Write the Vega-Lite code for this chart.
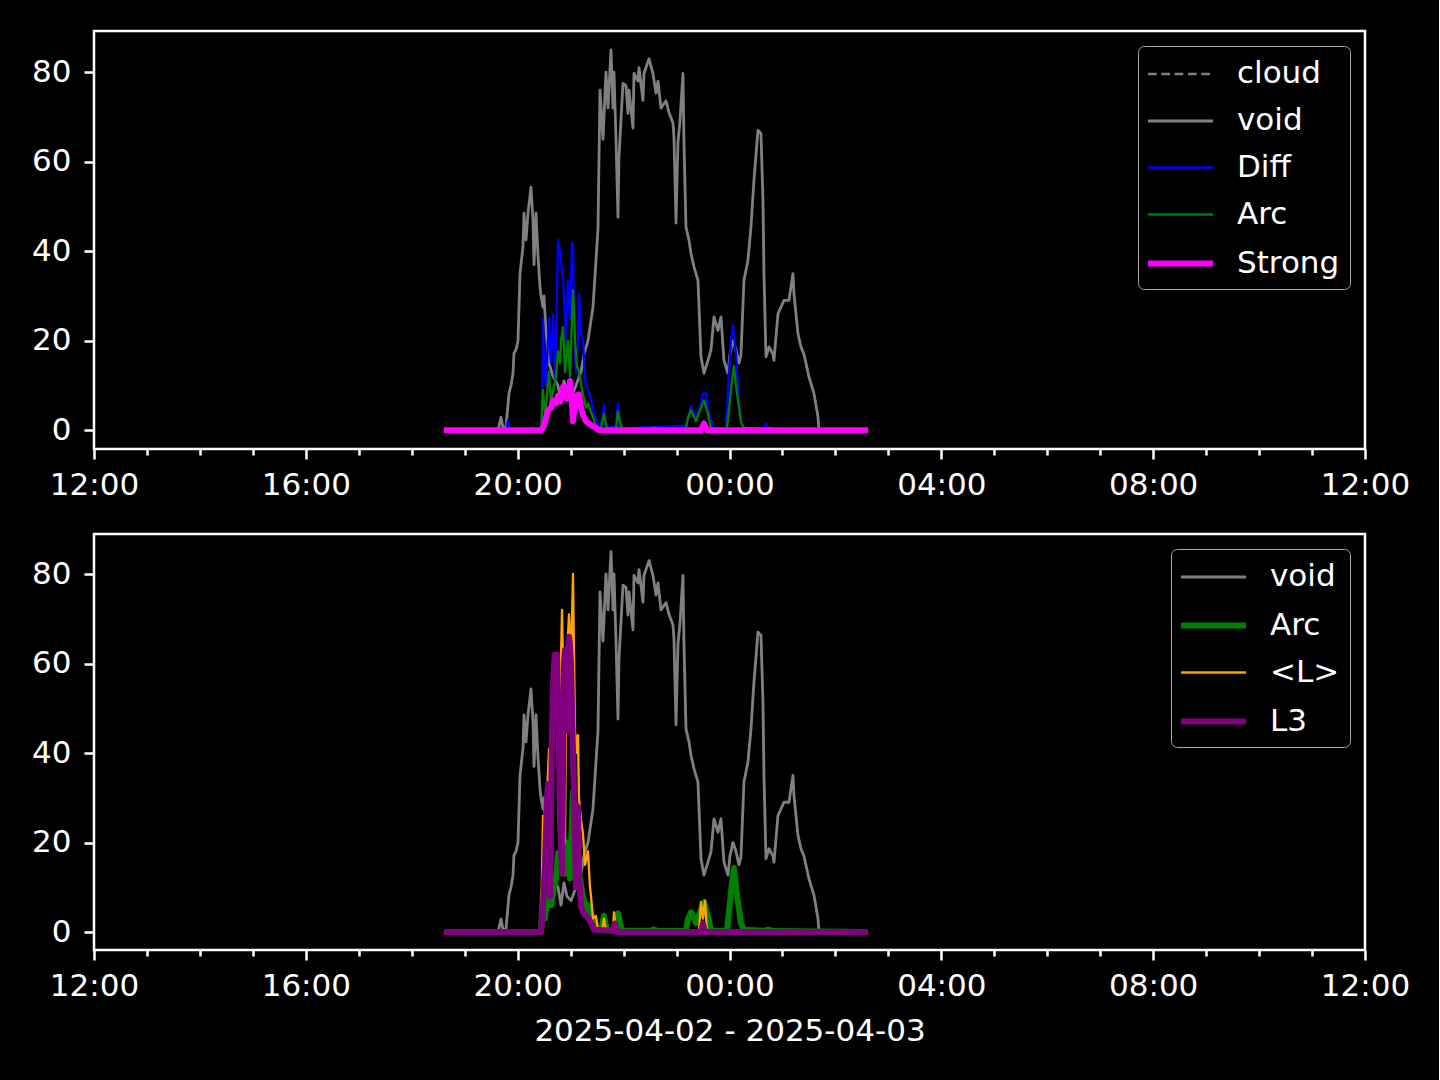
{
  "$schema": "https://vega.github.io/schema/vega-lite/v6.json",
  "background": "black",
  "padding": {"left": 30, "top": 29, "right": 28, "bottom": 32},
  "config": {
    "font": "DejaVu Sans",
    "view": {"stroke": "white", "strokeWidth": 2.5},
    "axis": {
      "domain": false, "grid": false,
      "tickColor": "white", "tickWidth": 2.5, "tickSize": 10,
      "labelColor": "white", "labelFont": "DejaVu Sans", "labelFontSize": 31,
      "labelPadding": 11, "labelFlush": false, "labelOverlap": false, "labelBound": false,
      "titleColor": "white", "titleFont": "DejaVu Sans", "titleFontSize": 31, "titleFontWeight": "normal", "titlePadding": 15
    },
    "axisY": {"labelPadding": 13},
    "legend": {
      "orient": "top-right", "offset": 15, "padding": 10,
      "fillColor": "black", "strokeColor": "#aaaaaa", "cornerRadius": 6,
      "labelColor": "white", "labelFont": "DejaVu Sans", "labelFontSize": 31,
      "symbolType": "M-2,0L2,0", "symbolSize": 1056, "symbolOffset": 13, "labelOffset": 37, "rowPadding": 14
    },
    "line": {"strokeJoin": "round"}
  },
  "datasets": {
    "d": [
      {"t":"2025-04-02T18:36:32","s":"void","v":0},
      {"t":"2025-04-02T19:37:43","s":"void","v":0},
      {"t":"2025-04-02T19:41:07","s":"void","v":2.9},
      {"t":"2025-04-02T19:43:23","s":"void","v":0.5},
      {"t":"2025-04-02T19:46:47","s":"void","v":0.7},
      {"t":"2025-04-02T19:50:11","s":"void","v":8.3},
      {"t":"2025-04-02T19:52:27","s":"void","v":10},
      {"t":"2025-04-02T19:54:43","s":"void","v":12.7},
      {"t":"2025-04-02T19:55:50","s":"void","v":17.2},
      {"t":"2025-04-02T19:58:07","s":"void","v":18},
      {"t":"2025-04-02T20:00:22","s":"void","v":20},
      {"t":"2025-04-02T20:02:38","s":"void","v":35},
      {"t":"2025-04-02T20:06:02","s":"void","v":41},
      {"t":"2025-04-02T20:07:10","s":"void","v":48.5},
      {"t":"2025-04-02T20:09:26","s":"void","v":42.5},
      {"t":"2025-04-02T20:11:42","s":"void","v":48.5},
      {"t":"2025-04-02T20:15:06","s":"void","v":54.3},
      {"t":"2025-04-02T20:17:22","s":"void","v":47},
      {"t":"2025-04-02T20:18:30","s":"void","v":37},
      {"t":"2025-04-02T20:20:46","s":"void","v":48.5},
      {"t":"2025-04-02T20:23:02","s":"void","v":39},
      {"t":"2025-04-02T20:25:18","s":"void","v":32},
      {"t":"2025-04-02T20:26:26","s":"void","v":30},
      {"t":"2025-04-02T20:28:42","s":"void","v":27.5},
      {"t":"2025-04-02T20:29:50","s":"void","v":30},
      {"t":"2025-04-02T20:32:06","s":"void","v":22},
      {"t":"2025-04-02T20:35:30","s":"void","v":15},
      {"t":"2025-04-02T20:40:02","s":"void","v":12},
      {"t":"2025-04-02T20:45:41","s":"void","v":10},
      {"t":"2025-04-02T20:49:05","s":"void","v":6},
      {"t":"2025-04-02T20:52:29","s":"void","v":11},
      {"t":"2025-04-02T20:55:53","s":"void","v":8},
      {"t":"2025-04-02T21:00:25","s":"void","v":7},
      {"t":"2025-04-02T21:06:05","s":"void","v":10},
      {"t":"2025-04-02T21:11:44","s":"void","v":13},
      {"t":"2025-04-02T21:15:08","s":"void","v":17},
      {"t":"2025-04-02T21:19:40","s":"void","v":20},
      {"t":"2025-04-02T21:25:20","s":"void","v":27.5},
      {"t":"2025-04-02T21:31:00","s":"void","v":45},
      {"t":"2025-04-02T21:33:16","s":"void","v":76},
      {"t":"2025-04-02T21:36:40","s":"void","v":65},
      {"t":"2025-04-02T21:40:04","s":"void","v":80},
      {"t":"2025-04-02T21:42:20","s":"void","v":72},
      {"t":"2025-04-02T21:45:44","s":"void","v":85},
      {"t":"2025-04-02T21:47:59","s":"void","v":72},
      {"t":"2025-04-02T21:49:08","s":"void","v":80},
      {"t":"2025-04-02T21:51:23","s":"void","v":65},
      {"t":"2025-04-02T21:53:40","s":"void","v":47.6},
      {"t":"2025-04-02T21:54:47","s":"void","v":61},
      {"t":"2025-04-02T21:59:19","s":"void","v":77.5},
      {"t":"2025-04-02T22:02:43","s":"void","v":77},
      {"t":"2025-04-02T22:04:59","s":"void","v":70.8},
      {"t":"2025-04-02T22:06:07","s":"void","v":76},
      {"t":"2025-04-02T22:10:39","s":"void","v":67.5},
      {"t":"2025-04-02T22:11:47","s":"void","v":79.7},
      {"t":"2025-04-02T22:16:19","s":"void","v":78},
      {"t":"2025-04-02T22:17:27","s":"void","v":81},
      {"t":"2025-04-02T22:21:59","s":"void","v":73.7},
      {"t":"2025-04-02T22:23:07","s":"void","v":79.7},
      {"t":"2025-04-02T22:28:47","s":"void","v":83},
      {"t":"2025-04-02T22:33:19","s":"void","v":79.7},
      {"t":"2025-04-02T22:36:43","s":"void","v":75.3},
      {"t":"2025-04-02T22:38:58","s":"void","v":78},
      {"t":"2025-04-02T22:42:22","s":"void","v":72},
      {"t":"2025-04-02T22:48:02","s":"void","v":73.6},
      {"t":"2025-04-02T22:51:26","s":"void","v":71},
      {"t":"2025-04-02T22:55:58","s":"void","v":68.6},
      {"t":"2025-04-02T22:57:06","s":"void","v":65.5},
      {"t":"2025-04-02T22:59:22","s":"void","v":46.3},
      {"t":"2025-04-02T23:01:38","s":"void","v":64.4},
      {"t":"2025-04-02T23:03:53","s":"void","v":69},
      {"t":"2025-04-02T23:07:17","s":"void","v":79.7},
      {"t":"2025-04-02T23:08:25","s":"void","v":64.4},
      {"t":"2025-04-02T23:10:41","s":"void","v":45.4},
      {"t":"2025-04-02T23:14:05","s":"void","v":42.5},
      {"t":"2025-04-02T23:16:21","s":"void","v":39.5},
      {"t":"2025-04-02T23:19:45","s":"void","v":36.5},
      {"t":"2025-04-02T23:24:17","s":"void","v":33.5},
      {"t":"2025-04-02T23:27:41","s":"void","v":16.4},
      {"t":"2025-04-02T23:31:05","s":"void","v":12.7},
      {"t":"2025-04-02T23:35:37","s":"void","v":15.6},
      {"t":"2025-04-02T23:39:01","s":"void","v":17.9},
      {"t":"2025-04-02T23:42:25","s":"void","v":25.3},
      {"t":"2025-04-02T23:46:56","s":"void","v":22.3},
      {"t":"2025-04-02T23:50:20","s":"void","v":25.3},
      {"t":"2025-04-02T23:53:44","s":"void","v":15.6},
      {"t":"2025-04-02T23:58:16","s":"void","v":12.7},
      {"t":"2025-04-03T00:00:32","s":"void","v":17},
      {"t":"2025-04-03T00:03:56","s":"void","v":20},
      {"t":"2025-04-03T00:07:20","s":"void","v":18},
      {"t":"2025-04-03T00:10:43","s":"void","v":15},
      {"t":"2025-04-03T00:12:59","s":"void","v":16.8},
      {"t":"2025-04-03T00:16:23","s":"void","v":33.5},
      {"t":"2025-04-03T00:20:55","s":"void","v":38},
      {"t":"2025-04-03T00:24:19","s":"void","v":45.4},
      {"t":"2025-04-03T00:27:43","s":"void","v":55.9},
      {"t":"2025-04-03T00:32:15","s":"void","v":67},
      {"t":"2025-04-03T00:35:39","s":"void","v":66.3},
      {"t":"2025-04-03T00:37:55","s":"void","v":51.4},
      {"t":"2025-04-03T00:39:03","s":"void","v":35},
      {"t":"2025-04-03T00:41:19","s":"void","v":16.4},
      {"t":"2025-04-03T00:44:43","s":"void","v":18.6},
      {"t":"2025-04-03T00:49:15","s":"void","v":17},
      {"t":"2025-04-03T00:50:23","s":"void","v":15.6},
      {"t":"2025-04-03T00:54:55","s":"void","v":26},
      {"t":"2025-04-03T00:58:19","s":"void","v":27.5},
      {"t":"2025-04-03T01:01:43","s":"void","v":29},
      {"t":"2025-04-03T01:07:22","s":"void","v":29},
      {"t":"2025-04-03T01:11:54","s":"void","v":35},
      {"t":"2025-04-03T01:13:02","s":"void","v":30.5},
      {"t":"2025-04-03T01:17:34","s":"void","v":21.6},
      {"t":"2025-04-03T01:20:58","s":"void","v":18.6},
      {"t":"2025-04-03T01:24:22","s":"void","v":17},
      {"t":"2025-04-03T01:30:02","s":"void","v":11.9},
      {"t":"2025-04-03T01:35:42","s":"void","v":8.2},
      {"t":"2025-04-03T01:40:14","s":"void","v":3},
      {"t":"2025-04-03T01:41:22","s":"void","v":0},
      {"t":"2025-04-03T02:36:52","s":"void","v":0},

      {"t":"2025-04-02T18:36:32","s":"Diff","v":0},
      {"t":"2025-04-02T19:46:47","s":"Diff","v":0},
      {"t":"2025-04-02T19:49:03","s":"Diff","v":2.2},
      {"t":"2025-04-02T19:51:19","s":"Diff","v":0},
      {"t":"2025-04-02T20:26:26","s":"Diff","v":0},
      {"t":"2025-04-02T20:27:34","s":"Diff","v":1},
      {"t":"2025-04-02T20:28:42","s":"Diff","v":25},
      {"t":"2025-04-02T20:29:50","s":"Diff","v":15},
      {"t":"2025-04-02T20:32:06","s":"Diff","v":10},
      {"t":"2025-04-02T20:34:22","s":"Diff","v":20},
      {"t":"2025-04-02T20:35:30","s":"Diff","v":25},
      {"t":"2025-04-02T20:37:46","s":"Diff","v":15},
      {"t":"2025-04-02T20:40:02","s":"Diff","v":26},
      {"t":"2025-04-02T20:42:17","s":"Diff","v":10},
      {"t":"2025-04-02T20:45:41","s":"Diff","v":42.5},
      {"t":"2025-04-02T20:47:58","s":"Diff","v":40},
      {"t":"2025-04-02T20:51:21","s":"Diff","v":33.5},
      {"t":"2025-04-02T20:53:37","s":"Diff","v":25},
      {"t":"2025-04-02T20:54:45","s":"Diff","v":20},
      {"t":"2025-04-02T20:57:01","s":"Diff","v":33.5},
      {"t":"2025-04-02T20:59:17","s":"Diff","v":25},
      {"t":"2025-04-02T21:01:33","s":"Diff","v":42},
      {"t":"2025-04-02T21:02:41","s":"Diff","v":41},
      {"t":"2025-04-02T21:03:49","s":"Diff","v":25},
      {"t":"2025-04-02T21:06:05","s":"Diff","v":12.7},
      {"t":"2025-04-02T21:08:20","s":"Diff","v":20},
      {"t":"2025-04-02T21:09:29","s":"Diff","v":30.5},
      {"t":"2025-04-02T21:11:44","s":"Diff","v":22},
      {"t":"2025-04-02T21:14:01","s":"Diff","v":20},
      {"t":"2025-04-02T21:16:17","s":"Diff","v":12},
      {"t":"2025-04-02T21:17:25","s":"Diff","v":9.7},
      {"t":"2025-04-02T21:19:40","s":"Diff","v":9},
      {"t":"2025-04-02T21:23:04","s":"Diff","v":7},
      {"t":"2025-04-02T21:25:20","s":"Diff","v":5},
      {"t":"2025-04-02T21:27:36","s":"Diff","v":3},
      {"t":"2025-04-02T21:29:52","s":"Diff","v":2},
      {"t":"2025-04-02T21:32:08","s":"Diff","v":0.4},
      {"t":"2025-04-02T21:35:32","s":"Diff","v":2},
      {"t":"2025-04-02T21:37:48","s":"Diff","v":5.6},
      {"t":"2025-04-02T21:40:04","s":"Diff","v":0.4},
      {"t":"2025-04-02T21:51:23","s":"Diff","v":1},
      {"t":"2025-04-02T21:53:40","s":"Diff","v":6},
      {"t":"2025-04-02T21:55:55","s":"Diff","v":0.4},
      {"t":"2025-04-02T23:10:41","s":"Diff","v":1},
      {"t":"2025-04-02T23:14:05","s":"Diff","v":3},
      {"t":"2025-04-02T23:16:21","s":"Diff","v":5.4},
      {"t":"2025-04-02T23:19:45","s":"Diff","v":3.8},
      {"t":"2025-04-02T23:22:01","s":"Diff","v":2.5},
      {"t":"2025-04-02T23:26:32","s":"Diff","v":5},
      {"t":"2025-04-02T23:29:57","s":"Diff","v":8.2},
      {"t":"2025-04-02T23:33:21","s":"Diff","v":8.2},
      {"t":"2025-04-02T23:36:44","s":"Diff","v":3.8},
      {"t":"2025-04-02T23:41:17","s":"Diff","v":0.4},
      {"t":"2025-04-02T23:56:00","s":"Diff","v":0.4},
      {"t":"2025-04-02T23:59:24","s":"Diff","v":12.7},
      {"t":"2025-04-03T00:01:40","s":"Diff","v":20},
      {"t":"2025-04-03T00:03:56","s":"Diff","v":23.5},
      {"t":"2025-04-03T00:07:20","s":"Diff","v":17},
      {"t":"2025-04-03T00:10:43","s":"Diff","v":6},
      {"t":"2025-04-03T00:12:59","s":"Diff","v":2},
      {"t":"2025-04-03T00:16:23","s":"Diff","v":0.4},
      {"t":"2025-04-03T00:39:03","s":"Diff","v":0.4},
      {"t":"2025-04-03T00:41:19","s":"Diff","v":1.5},
      {"t":"2025-04-03T00:43:35","s":"Diff","v":0.3},
      {"t":"2025-04-03T02:36:52","s":"Diff","v":0},

      {"t":"2025-04-02T18:36:32","s":"Arc","v":0},
      {"t":"2025-04-02T20:26:26","s":"Arc","v":0},
      {"t":"2025-04-02T20:28:42","s":"Arc","v":9},
      {"t":"2025-04-02T20:30:58","s":"Arc","v":3},
      {"t":"2025-04-02T20:33:14","s":"Arc","v":8},
      {"t":"2025-04-02T20:35:30","s":"Arc","v":13},
      {"t":"2025-04-02T20:37:46","s":"Arc","v":6},
      {"t":"2025-04-02T20:41:10","s":"Arc","v":10},
      {"t":"2025-04-02T20:43:25","s":"Arc","v":12},
      {"t":"2025-04-02T20:45:41","s":"Arc","v":17.6},
      {"t":"2025-04-02T20:47:58","s":"Arc","v":15},
      {"t":"2025-04-02T20:49:05","s":"Arc","v":20},
      {"t":"2025-04-02T20:51:21","s":"Arc","v":23},
      {"t":"2025-04-02T20:53:37","s":"Arc","v":13},
      {"t":"2025-04-02T20:55:53","s":"Arc","v":18},
      {"t":"2025-04-02T20:57:01","s":"Arc","v":20},
      {"t":"2025-04-02T20:59:17","s":"Arc","v":12},
      {"t":"2025-04-02T21:01:33","s":"Arc","v":25},
      {"t":"2025-04-02T21:02:41","s":"Arc","v":31.3},
      {"t":"2025-04-02T21:04:57","s":"Arc","v":20},
      {"t":"2025-04-02T21:07:13","s":"Arc","v":14},
      {"t":"2025-04-02T21:08:20","s":"Arc","v":14},
      {"t":"2025-04-02T21:10:37","s":"Arc","v":12},
      {"t":"2025-04-02T21:12:53","s":"Arc","v":9},
      {"t":"2025-04-02T21:15:08","s":"Arc","v":7},
      {"t":"2025-04-02T21:17:25","s":"Arc","v":5},
      {"t":"2025-04-02T21:19:40","s":"Arc","v":6},
      {"t":"2025-04-02T21:23:04","s":"Arc","v":4},
      {"t":"2025-04-02T21:25:20","s":"Arc","v":3},
      {"t":"2025-04-02T21:28:44","s":"Arc","v":0.5},
      {"t":"2025-04-02T21:34:24","s":"Arc","v":0.5},
      {"t":"2025-04-02T21:37:48","s":"Arc","v":3.6},
      {"t":"2025-04-02T21:41:12","s":"Arc","v":0.4},
      {"t":"2025-04-02T21:51:23","s":"Arc","v":0.3},
      {"t":"2025-04-02T21:53:40","s":"Arc","v":4.2},
      {"t":"2025-04-02T21:55:55","s":"Arc","v":2},
      {"t":"2025-04-02T21:58:11","s":"Arc","v":0.3},
      {"t":"2025-04-02T22:31:02","s":"Arc","v":0.3},
      {"t":"2025-04-02T22:34:26","s":"Arc","v":0.6},
      {"t":"2025-04-02T22:37:50","s":"Arc","v":0.2},
      {"t":"2025-04-02T23:10:41","s":"Arc","v":0.3},
      {"t":"2025-04-02T23:12:57","s":"Arc","v":2.9},
      {"t":"2025-04-02T23:16:21","s":"Arc","v":4.4},
      {"t":"2025-04-02T23:19:45","s":"Arc","v":3},
      {"t":"2025-04-02T23:22:01","s":"Arc","v":2},
      {"t":"2025-04-02T23:27:41","s":"Arc","v":5},
      {"t":"2025-04-02T23:31:05","s":"Arc","v":6.7},
      {"t":"2025-04-02T23:35:37","s":"Arc","v":3.6},
      {"t":"2025-04-02T23:39:01","s":"Arc","v":0.3},
      {"t":"2025-04-02T23:57:08","s":"Arc","v":0.3},
      {"t":"2025-04-03T00:00:32","s":"Arc","v":6.7},
      {"t":"2025-04-03T00:02:48","s":"Arc","v":11},
      {"t":"2025-04-03T00:05:04","s":"Arc","v":14.3},
      {"t":"2025-04-03T00:07:20","s":"Arc","v":10},
      {"t":"2025-04-03T00:09:35","s":"Arc","v":6.7},
      {"t":"2025-04-03T00:12:59","s":"Arc","v":1.9},
      {"t":"2025-04-03T00:16:23","s":"Arc","v":0.5},
      {"t":"2025-04-03T00:39:03","s":"Arc","v":0.3},
      {"t":"2025-04-03T00:44:43","s":"Arc","v":0.5},
      {"t":"2025-04-03T00:50:23","s":"Arc","v":0.2},
      {"t":"2025-04-03T02:36:52","s":"Arc","v":0},

      {"t":"2025-04-02T18:36:32","s":"Strong","v":0},
      {"t":"2025-04-02T20:26:26","s":"Strong","v":0},
      {"t":"2025-04-02T20:29:50","s":"Strong","v":1},
      {"t":"2025-04-02T20:34:22","s":"Strong","v":4.5},
      {"t":"2025-04-02T20:37:46","s":"Strong","v":5},
      {"t":"2025-04-02T20:40:02","s":"Strong","v":6.6},
      {"t":"2025-04-02T20:43:25","s":"Strong","v":6},
      {"t":"2025-04-02T20:45:41","s":"Strong","v":7.7},
      {"t":"2025-04-02T20:47:58","s":"Strong","v":6.5},
      {"t":"2025-04-02T20:51:21","s":"Strong","v":9.7},
      {"t":"2025-04-02T20:53:37","s":"Strong","v":8},
      {"t":"2025-04-02T20:55:53","s":"Strong","v":7},
      {"t":"2025-04-02T20:59:17","s":"Strong","v":11},
      {"t":"2025-04-02T21:01:33","s":"Strong","v":6},
      {"t":"2025-04-02T21:02:41","s":"Strong","v":2},
      {"t":"2025-04-02T21:04:57","s":"Strong","v":6},
      {"t":"2025-04-02T21:06:05","s":"Strong","v":7.7},
      {"t":"2025-04-02T21:09:29","s":"Strong","v":8},
      {"t":"2025-04-02T21:11:44","s":"Strong","v":5},
      {"t":"2025-04-02T21:14:01","s":"Strong","v":3.4},
      {"t":"2025-04-02T21:17:25","s":"Strong","v":2},
      {"t":"2025-04-02T21:20:48","s":"Strong","v":1.5},
      {"t":"2025-04-02T21:24:12","s":"Strong","v":1},
      {"t":"2025-04-02T21:28:44","s":"Strong","v":0.5},
      {"t":"2025-04-02T21:32:08","s":"Strong","v":0},
      {"t":"2025-04-02T23:27:41","s":"Strong","v":0},
      {"t":"2025-04-02T23:31:05","s":"Strong","v":1.5},
      {"t":"2025-04-02T23:34:29","s":"Strong","v":0},
      {"t":"2025-04-03T02:36:52","s":"Strong","v":0},

      {"t":"2025-04-02T18:36:32","s":"<L>","v":0},
      {"t":"2025-04-02T20:26:26","s":"<L>","v":0},
      {"t":"2025-04-02T20:28:42","s":"<L>","v":26},
      {"t":"2025-04-02T20:30:58","s":"<L>","v":10},
      {"t":"2025-04-02T20:33:14","s":"<L>","v":30},
      {"t":"2025-04-02T20:35:30","s":"<L>","v":41},
      {"t":"2025-04-02T20:36:38","s":"<L>","v":15},
      {"t":"2025-04-02T20:38:53","s":"<L>","v":45},
      {"t":"2025-04-02T20:41:10","s":"<L>","v":55},
      {"t":"2025-04-02T20:43:25","s":"<L>","v":62},
      {"t":"2025-04-02T20:45:41","s":"<L>","v":60},
      {"t":"2025-04-02T20:47:58","s":"<L>","v":50},
      {"t":"2025-04-02T20:50:13","s":"<L>","v":72},
      {"t":"2025-04-02T20:51:21","s":"<L>","v":60},
      {"t":"2025-04-02T20:52:29","s":"<L>","v":40},
      {"t":"2025-04-02T20:53:37","s":"<L>","v":20},
      {"t":"2025-04-02T20:54:45","s":"<L>","v":50},
      {"t":"2025-04-02T20:55:53","s":"<L>","v":62},
      {"t":"2025-04-02T20:58:09","s":"<L>","v":71},
      {"t":"2025-04-02T21:00:25","s":"<L>","v":60},
      {"t":"2025-04-02T21:02:41","s":"<L>","v":80},
      {"t":"2025-04-02T21:03:49","s":"<L>","v":62},
      {"t":"2025-04-02T21:04:57","s":"<L>","v":45},
      {"t":"2025-04-02T21:07:13","s":"<L>","v":40},
      {"t":"2025-04-02T21:08:20","s":"<L>","v":44},
      {"t":"2025-04-02T21:09:29","s":"<L>","v":30},
      {"t":"2025-04-02T21:11:44","s":"<L>","v":25},
      {"t":"2025-04-02T21:14:01","s":"<L>","v":22},
      {"t":"2025-04-02T21:16:17","s":"<L>","v":15},
      {"t":"2025-04-02T21:19:40","s":"<L>","v":18},
      {"t":"2025-04-02T21:21:56","s":"<L>","v":10},
      {"t":"2025-04-02T21:23:04","s":"<L>","v":8},
      {"t":"2025-04-02T21:25:20","s":"<L>","v":3},
      {"t":"2025-04-02T21:28:44","s":"<L>","v":3.6},
      {"t":"2025-04-02T21:31:00","s":"<L>","v":0.5},
      {"t":"2025-04-02T21:35:32","s":"<L>","v":0.5},
      {"t":"2025-04-02T21:37:48","s":"<L>","v":3},
      {"t":"2025-04-02T21:40:04","s":"<L>","v":0.3},
      {"t":"2025-04-02T21:47:59","s":"<L>","v":0.3},
      {"t":"2025-04-02T21:49:08","s":"<L>","v":4.4},
      {"t":"2025-04-02T21:51:23","s":"<L>","v":0.3},
      {"t":"2025-04-02T23:25:25","s":"<L>","v":0.3},
      {"t":"2025-04-02T23:27:41","s":"<L>","v":6.7},
      {"t":"2025-04-02T23:29:57","s":"<L>","v":3},
      {"t":"2025-04-02T23:32:13","s":"<L>","v":7},
      {"t":"2025-04-02T23:34:29","s":"<L>","v":0.3},
      {"t":"2025-04-03T02:36:52","s":"<L>","v":0},

      {"t":"2025-04-02T18:36:32","s":"L3","v":0},
      {"t":"2025-04-02T20:26:26","s":"L3","v":0},
      {"t":"2025-04-02T20:28:42","s":"L3","v":6},
      {"t":"2025-04-02T20:30:58","s":"L3","v":15},
      {"t":"2025-04-02T20:33:14","s":"L3","v":30},
      {"t":"2025-04-02T20:34:22","s":"L3","v":33},
      {"t":"2025-04-02T20:35:30","s":"L3","v":20},
      {"t":"2025-04-02T20:36:38","s":"L3","v":8},
      {"t":"2025-04-02T20:37:46","s":"L3","v":25},
      {"t":"2025-04-02T20:38:53","s":"L3","v":45},
      {"t":"2025-04-02T20:40:02","s":"L3","v":55},
      {"t":"2025-04-02T20:41:10","s":"L3","v":60},
      {"t":"2025-04-02T20:42:17","s":"L3","v":62},
      {"t":"2025-04-02T20:43:25","s":"L3","v":58},
      {"t":"2025-04-02T20:44:34","s":"L3","v":62},
      {"t":"2025-04-02T20:45:41","s":"L3","v":50},
      {"t":"2025-04-02T20:46:49","s":"L3","v":40},
      {"t":"2025-04-02T20:47:58","s":"L3","v":25},
      {"t":"2025-04-02T20:50:13","s":"L3","v":13},
      {"t":"2025-04-02T20:51:21","s":"L3","v":35},
      {"t":"2025-04-02T20:52:29","s":"L3","v":60},
      {"t":"2025-04-02T20:53:37","s":"L3","v":63},
      {"t":"2025-04-02T20:54:45","s":"L3","v":55},
      {"t":"2025-04-02T20:55:53","s":"L3","v":45},
      {"t":"2025-04-02T20:57:01","s":"L3","v":62},
      {"t":"2025-04-02T20:58:09","s":"L3","v":66},
      {"t":"2025-04-02T20:59:17","s":"L3","v":64},
      {"t":"2025-04-02T21:00:25","s":"L3","v":60},
      {"t":"2025-04-02T21:01:33","s":"L3","v":50},
      {"t":"2025-04-02T21:02:41","s":"L3","v":40},
      {"t":"2025-04-02T21:03:49","s":"L3","v":30},
      {"t":"2025-04-02T21:04:57","s":"L3","v":20},
      {"t":"2025-04-02T21:06:05","s":"L3","v":10},
      {"t":"2025-04-02T21:07:13","s":"L3","v":25},
      {"t":"2025-04-02T21:08:20","s":"L3","v":28},
      {"t":"2025-04-02T21:09:29","s":"L3","v":13},
      {"t":"2025-04-02T21:11:44","s":"L3","v":5.6},
      {"t":"2025-04-02T21:15:08","s":"L3","v":4},
      {"t":"2025-04-02T21:19:40","s":"L3","v":3.3},
      {"t":"2025-04-02T21:23:04","s":"L3","v":2},
      {"t":"2025-04-02T21:26:28","s":"L3","v":0.5},
      {"t":"2025-04-02T21:47:59","s":"L3","v":0.3},
      {"t":"2025-04-02T21:50:16","s":"L3","v":1.9},
      {"t":"2025-04-02T21:52:32","s":"L3","v":0},
      {"t":"2025-04-02T23:27:41","s":"L3","v":0},
      {"t":"2025-04-02T23:29:57","s":"L3","v":1.9},
      {"t":"2025-04-02T23:32:13","s":"L3","v":0},
      {"t":"2025-04-03T02:36:52","s":"L3","v":0}
    ]
  },
  "spacing": 30,
  "vconcat": [
    {
      "data": {"name": "d"},
      "width": 1271, "height": 418,
      "encoding": {
        "y": {"field": "v", "type": "quantitative", "title": null,
              "scale": {"domain": [-4.2, 89.2], "nice": false, "zero": false},
              "axis": {"values": [0, 20, 40, 60, 80]}},
        "color": {"field": "s", "type": "nominal",
                  "scale": {"domain": ["cloud", "void", "Diff", "Arc", "Strong"], "range": ["#808080", "#808080", "#0000ff", "#008000", "#ff00ff"]},
                  "legend": {"title": null, "encode": {"legend": {"update": {"strokeWidth": {"value": 2}}}}}},
        "strokeWidth": {"field": "s", "type": "nominal",
                  "scale": {"type": "ordinal", "domain": ["cloud", "void", "Diff", "Arc", "Strong"], "range": [2.6, 2.8, 2.3, 2.3, 6]},
                  "legend": {"title": null}},
        "strokeDash": {"field": "s", "type": "nominal",
                  "scale": {"domain": ["cloud", "void", "Diff", "Arc", "Strong"], "range": [[8.7, 4.6], [1, 0], [1, 0], [1, 0], [1, 0]]},
                  "legend": {"title": null}}
      },
      "layer": [
        {"transform": [{"filter": "datum.s == 'void'"}], "mark": {"type": "line"},
         "encoding": {"x": {"field": "t", "type": "temporal", "title": null,
              "scale": {"domain": [{"year": 2025, "month": 4, "date": 2, "hours": 12}, {"year": 2025, "month": 4, "date": 3, "hours": 12}]},
              "axis": {"format": "%H:%M", "orient": "bottom", "values": [
                {"year": 2025, "month": 4, "date": 2, "hours": 12}, {"year": 2025, "month": 4, "date": 2, "hours": 16},
                {"year": 2025, "month": 4, "date": 2, "hours": 20}, {"year": 2025, "month": 4, "date": 3, "hours": 0},
                {"year": 2025, "month": 4, "date": 3, "hours": 4}, {"year": 2025, "month": 4, "date": 3, "hours": 8},
                {"year": 2025, "month": 4, "date": 3, "hours": 12}]}}}},
        {"transform": [{"filter": "datum.s == 'Diff'"}], "mark": {"type": "line"},
         "encoding": {"x": {"field": "t", "type": "temporal", "title": null,
              "scale": {"domain": [{"year": 2025, "month": 4, "date": 2, "hours": 12}, {"year": 2025, "month": 4, "date": 3, "hours": 12}]},
              "axis": {"labels": false, "tickSize": 6, "orient": "bottom", "values": [
                {"year": 2025, "month": 4, "date": 2, "hours": 13}, {"year": 2025, "month": 4, "date": 2, "hours": 14}, {"year": 2025, "month": 4, "date": 2, "hours": 15},
                {"year": 2025, "month": 4, "date": 2, "hours": 17}, {"year": 2025, "month": 4, "date": 2, "hours": 18}, {"year": 2025, "month": 4, "date": 2, "hours": 19},
                {"year": 2025, "month": 4, "date": 2, "hours": 21}, {"year": 2025, "month": 4, "date": 2, "hours": 22}, {"year": 2025, "month": 4, "date": 2, "hours": 23},
                {"year": 2025, "month": 4, "date": 3, "hours": 1}, {"year": 2025, "month": 4, "date": 3, "hours": 2}, {"year": 2025, "month": 4, "date": 3, "hours": 3},
                {"year": 2025, "month": 4, "date": 3, "hours": 5}, {"year": 2025, "month": 4, "date": 3, "hours": 6}, {"year": 2025, "month": 4, "date": 3, "hours": 7},
                {"year": 2025, "month": 4, "date": 3, "hours": 9}, {"year": 2025, "month": 4, "date": 3, "hours": 10}, {"year": 2025, "month": 4, "date": 3, "hours": 11}]}}}},
        {"transform": [{"filter": "datum.s == 'Arc'"}], "mark": {"type": "line"},
         "encoding": {"x": {"field": "t", "type": "temporal", "axis": null,
              "scale": {"domain": [{"year": 2025, "month": 4, "date": 2, "hours": 12}, {"year": 2025, "month": 4, "date": 3, "hours": 12}]}}}},
        {"transform": [{"filter": "datum.s == 'Strong'"}], "mark": {"type": "line"},
         "encoding": {"x": {"field": "t", "type": "temporal", "axis": null,
              "scale": {"domain": [{"year": 2025, "month": 4, "date": 2, "hours": 12}, {"year": 2025, "month": 4, "date": 3, "hours": 12}]}}}}
      ],
      "resolve": {"axis": {"x": "independent"}}
    },
    {
      "data": {"name": "d"},
      "width": 1271, "height": 416,
      "encoding": {
        "y": {"field": "v", "type": "quantitative", "title": null,
              "scale": {"domain": [-4.02, 88.94], "nice": false, "zero": false},
              "axis": {"values": [0, 20, 40, 60, 80]}},
        "color": {"field": "s", "type": "nominal",
                  "scale": {"domain": ["void", "Arc", "<L>", "L3"], "range": ["#808080", "#008000", "#ffa500", "#800080"]},
                  "legend": {"title": null, "encode": {"legend": {"update": {"strokeWidth": {"value": 2}}}}}},
        "strokeWidth": {"field": "s", "type": "nominal",
                  "scale": {"type": "ordinal", "domain": ["void", "Arc", "<L>", "L3"], "range": [2.8, 6, 2.3, 6]},
                  "legend": {"title": null}}
      },
      "layer": [
        {"transform": [{"filter": "datum.s == 'void'"}], "mark": {"type": "line"},
         "encoding": {"x": {"field": "t", "type": "temporal", "title": "2025-04-02 - 2025-04-03",
              "scale": {"domain": [{"year": 2025, "month": 4, "date": 2, "hours": 12}, {"year": 2025, "month": 4, "date": 3, "hours": 12}]},
              "axis": {"format": "%H:%M", "orient": "bottom", "values": [
                {"year": 2025, "month": 4, "date": 2, "hours": 12}, {"year": 2025, "month": 4, "date": 2, "hours": 16},
                {"year": 2025, "month": 4, "date": 2, "hours": 20}, {"year": 2025, "month": 4, "date": 3, "hours": 0},
                {"year": 2025, "month": 4, "date": 3, "hours": 4}, {"year": 2025, "month": 4, "date": 3, "hours": 8},
                {"year": 2025, "month": 4, "date": 3, "hours": 12}]}}}},
        {"transform": [{"filter": "datum.s == 'Arc'"}], "mark": {"type": "line"},
         "encoding": {"x": {"field": "t", "type": "temporal", "title": null,
              "scale": {"domain": [{"year": 2025, "month": 4, "date": 2, "hours": 12}, {"year": 2025, "month": 4, "date": 3, "hours": 12}]},
              "axis": {"labels": false, "tickSize": 6, "orient": "bottom", "values": [
                {"year": 2025, "month": 4, "date": 2, "hours": 13}, {"year": 2025, "month": 4, "date": 2, "hours": 14}, {"year": 2025, "month": 4, "date": 2, "hours": 15},
                {"year": 2025, "month": 4, "date": 2, "hours": 17}, {"year": 2025, "month": 4, "date": 2, "hours": 18}, {"year": 2025, "month": 4, "date": 2, "hours": 19},
                {"year": 2025, "month": 4, "date": 2, "hours": 21}, {"year": 2025, "month": 4, "date": 2, "hours": 22}, {"year": 2025, "month": 4, "date": 2, "hours": 23},
                {"year": 2025, "month": 4, "date": 3, "hours": 1}, {"year": 2025, "month": 4, "date": 3, "hours": 2}, {"year": 2025, "month": 4, "date": 3, "hours": 3},
                {"year": 2025, "month": 4, "date": 3, "hours": 5}, {"year": 2025, "month": 4, "date": 3, "hours": 6}, {"year": 2025, "month": 4, "date": 3, "hours": 7},
                {"year": 2025, "month": 4, "date": 3, "hours": 9}, {"year": 2025, "month": 4, "date": 3, "hours": 10}, {"year": 2025, "month": 4, "date": 3, "hours": 11}]}}}},
        {"transform": [{"filter": "datum.s == '<L>'"}], "mark": {"type": "line"},
         "encoding": {"x": {"field": "t", "type": "temporal", "axis": null,
              "scale": {"domain": [{"year": 2025, "month": 4, "date": 2, "hours": 12}, {"year": 2025, "month": 4, "date": 3, "hours": 12}]}}}},
        {"transform": [{"filter": "datum.s == 'L3'"}], "mark": {"type": "line"},
         "encoding": {"x": {"field": "t", "type": "temporal", "axis": null,
              "scale": {"domain": [{"year": 2025, "month": 4, "date": 2, "hours": 12}, {"year": 2025, "month": 4, "date": 3, "hours": 12}]}}}}
      ],
      "resolve": {"axis": {"x": "independent"}}
    }
  ],
  "resolve": {"scale": {"x": "independent", "y": "independent", "color": "independent", "strokeWidth": "independent", "strokeDash": "independent"}}
}
